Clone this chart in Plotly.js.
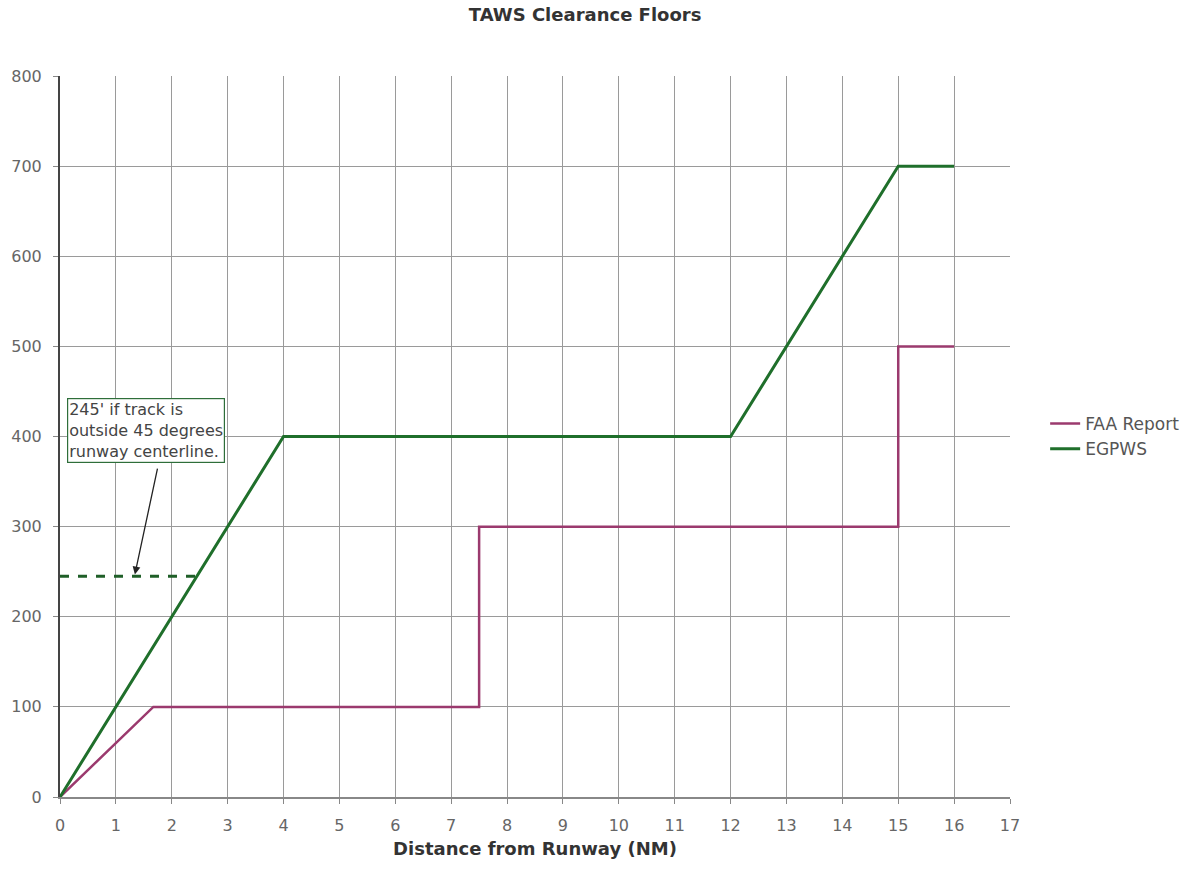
<!DOCTYPE html>
<html>
<head>
<meta charset="utf-8">
<script src="https://cdn.plot.ly/plotly-3.0.1.min.js"></script>
<style>html,body{margin:0;padding:0;background:#fff;}#chart{width:1199px;height:869px;}</style>
</head>
<body>
<div id="chart"></div>
<script>
const faaX = [0, 1.67, 7.5, 7.5, 15, 15, 16];
const faaY = [0, 100, 100, 300, 300, 500, 500];
const egpwsX = [0, 4, 12, 15, 16];
const egpwsY = [0, 400, 400, 700, 700];
const dashX = [0, 2.45];
const dashY = [245, 245];
const xTicks = [0,1,2,3,4,5,6,7,8,9,10,11,12,13,14,15,16,17];
const yTicks = [0,100,200,300,400,500,600,700,800];

const font = "DejaVu Sans, Verdana, sans-serif";
const traces = [
  {x: faaX, y: faaY, mode: 'lines', name: 'FAA Report', line: {color: '#9b3a6e', width: 2.5}},
  {x: egpwsX, y: egpwsY, mode: 'lines', name: 'EGPWS', line: {color: '#1f6f2b', width: 3}},
  {x: dashX, y: dashY, mode: 'lines', showlegend: false, line: {color: '#1f5f28', width: 3, dash: 'dash'}}
];
const layout = {
  width: 1199, height: 869,
  margin: {l: 60, r: 189, t: 76, b: 72},
  paper_bgcolor: '#fff', plot_bgcolor: '#fff',
  font: {family: font, color: '#666', size: 16},
  title: {text: '<b>TAWS Clearance Floors</b>', x: 0.488, xref: 'container', xanchor: 'center', y: 0.99, yanchor: 'top', font: {family: font, size: 18, color: '#333'}},
  xaxis: {
    range: [0, 17], tickvals: xTicks, showgrid: true, gridcolor: '#9a9a9a', gridwidth: 1,
    zeroline: false, showline: true, linecolor: '#888', linewidth: 2,
    ticks: 'outside', ticklen: 5, tickcolor: '#888', ticklabelstandoff: 8,
    tickfont: {family: font, size: 16, color: '#666'},
    title: {text: '<b>Distance from Runway (NM)</b>', font: {family: font, size: 18, color: '#333'}, standoff: 8}
  },
  yaxis: {
    range: [0, 800], tickvals: yTicks, showgrid: true, gridcolor: '#9a9a9a', gridwidth: 1,
    zeroline: false, showline: true, linecolor: '#444', linewidth: 2,
    ticks: 'outside', ticklen: 5, tickcolor: '#888', ticklabelstandoff: 8,
    tickfont: {family: font, size: 16, color: '#666'}
  },
  legend: {x: 1.037, xanchor: 'left', y: 0.5, yanchor: 'middle', font: {family: font, size: 17, color: '#555'}, bgcolor: 'rgba(0,0,0,0)', tracegroupgap: 2},
  annotations: [
    {x: 1.34, y: 247, xref: 'x', yref: 'y', ax: 1.75, ay: 366, axref: 'x', ayref: 'y',
     showarrow: true, arrowhead: 2, arrowsize: 1.2, arrowwidth: 1.3, arrowcolor: '#222', text: ''},
    {x: 0.125, y: 443, xref: 'x', yref: 'y', xanchor: 'left', yanchor: 'top', showarrow: false, align: 'left',
     text: "245' if track is<br>outside 45 degrees<br>runway centerline.",
     font: {family: font, size: 16, color: '#444'}, bordercolor: '#2e6e3a', borderwidth: 1.2, borderpad: 1, bgcolor: '#fff'}
  ]
};
Plotly.newPlot('chart', traces, layout, {displayModeBar: false});
</script>
</body>
</html>
